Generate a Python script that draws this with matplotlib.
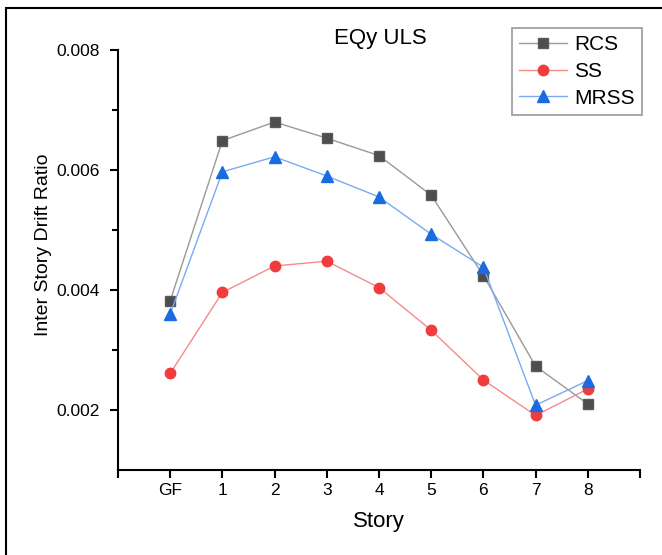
import numpy as np
import matplotlib.pyplot as plt
from matplotlib.patches import Rectangle

plt.rcParams['font.family'] = ['Liberation Sans', 'DejaVu Sans']

stories = ['GF', '1', '2', '3', '4', '5', '6', '7', '8']
rcs = [0.00382, 0.00649, 0.00680, 0.00653, 0.00624, 0.00558, 0.00424, 0.00273, 0.00210]
ss = [0.00261, 0.00396, 0.00440, 0.00448, 0.00404, 0.00333, 0.00250, 0.00191, 0.00235]
mrss = [0.00360, 0.00597, 0.00622, 0.00590, 0.00555, 0.00493, 0.00438, 0.00208, 0.00249]

fig = plt.figure(figsize=(6.62, 5.55), dpi=100)
ax = fig.add_axes([118/662, 1-470/555, 522/662, 420/555])

x = np.arange(len(stories))
ax.plot(x, rcs, color='#999999', lw=1, marker='s', ms=6.5,
        mfc='#4d4d4d', mec='#5a5a5a', label='RCS')
ax.plot(x, ss, color='#f58a8a', lw=1, marker='o', ms=7.5,
        mfc='#f03c3c', mec='#f03c3c', label='SS')
ax.plot(x, mrss, color='#7aaaf0', lw=1, marker='^', ms=8.5,
        mfc='#1a6be0', mec='#1a6be0', label='MRSS')

ax.set_xlim(-1, 9)
ax.set_ylim(0.001, 0.008)
ax.set_xticks(np.arange(-1, 10))
ax.set_xticklabels([''] + stories + [''])
ax.set_yticks([0.002, 0.004, 0.006, 0.008])
ax.set_yticklabels(['0.002', '0.004', '0.006', '0.008'])
ax.set_yticks([0.003, 0.005, 0.007], minor=True)

for s in ['top', 'right']:
    ax.spines[s].set_visible(False)
for s in ['left', 'bottom']:
    ax.spines[s].set_linewidth(1.5)
ax.tick_params(which='major', direction='out', length=6, width=1.5, labelsize=12.5)
ax.tick_params(axis='y', which='major', pad=7)
ax.tick_params(which='minor', direction='out', length=4, width=1.5)

ax.set_xlabel('Story', fontsize=16, va='center')
ax.xaxis.set_label_coords(0.5, -(522-470)/420)
ax.set_ylabel('Inter Story Drift Ratio', fontsize=14, va='center')
ax.yaxis.set_label_coords(-(118-44)/522, (470-245)/420)

fig.text(380/662, 1-44/555, 'EQy ULS', fontsize=16, ha='center', va='baseline')

leg = ax.legend(loc='upper right', bbox_to_anchor=(642/662, 1-28/555),
                bbox_transform=fig.transFigure, fontsize=15, frameon=True,
                fancybox=False, edgecolor='#808080', handlelength=2.3,
                labelspacing=0.37, borderpad=0.35, handletextpad=0.35,
                borderaxespad=0)
leg.get_frame().set_linewidth(1.2)

# outer frame of the original figure
fig.patches.append(Rectangle((6/662, -0.1), 1.2, 1-8/555+0.1,
                             transform=fig.transFigure, fill=False,
                             edgecolor='black', lw=1.5))

fig.savefig('out.png', dpi=100)
